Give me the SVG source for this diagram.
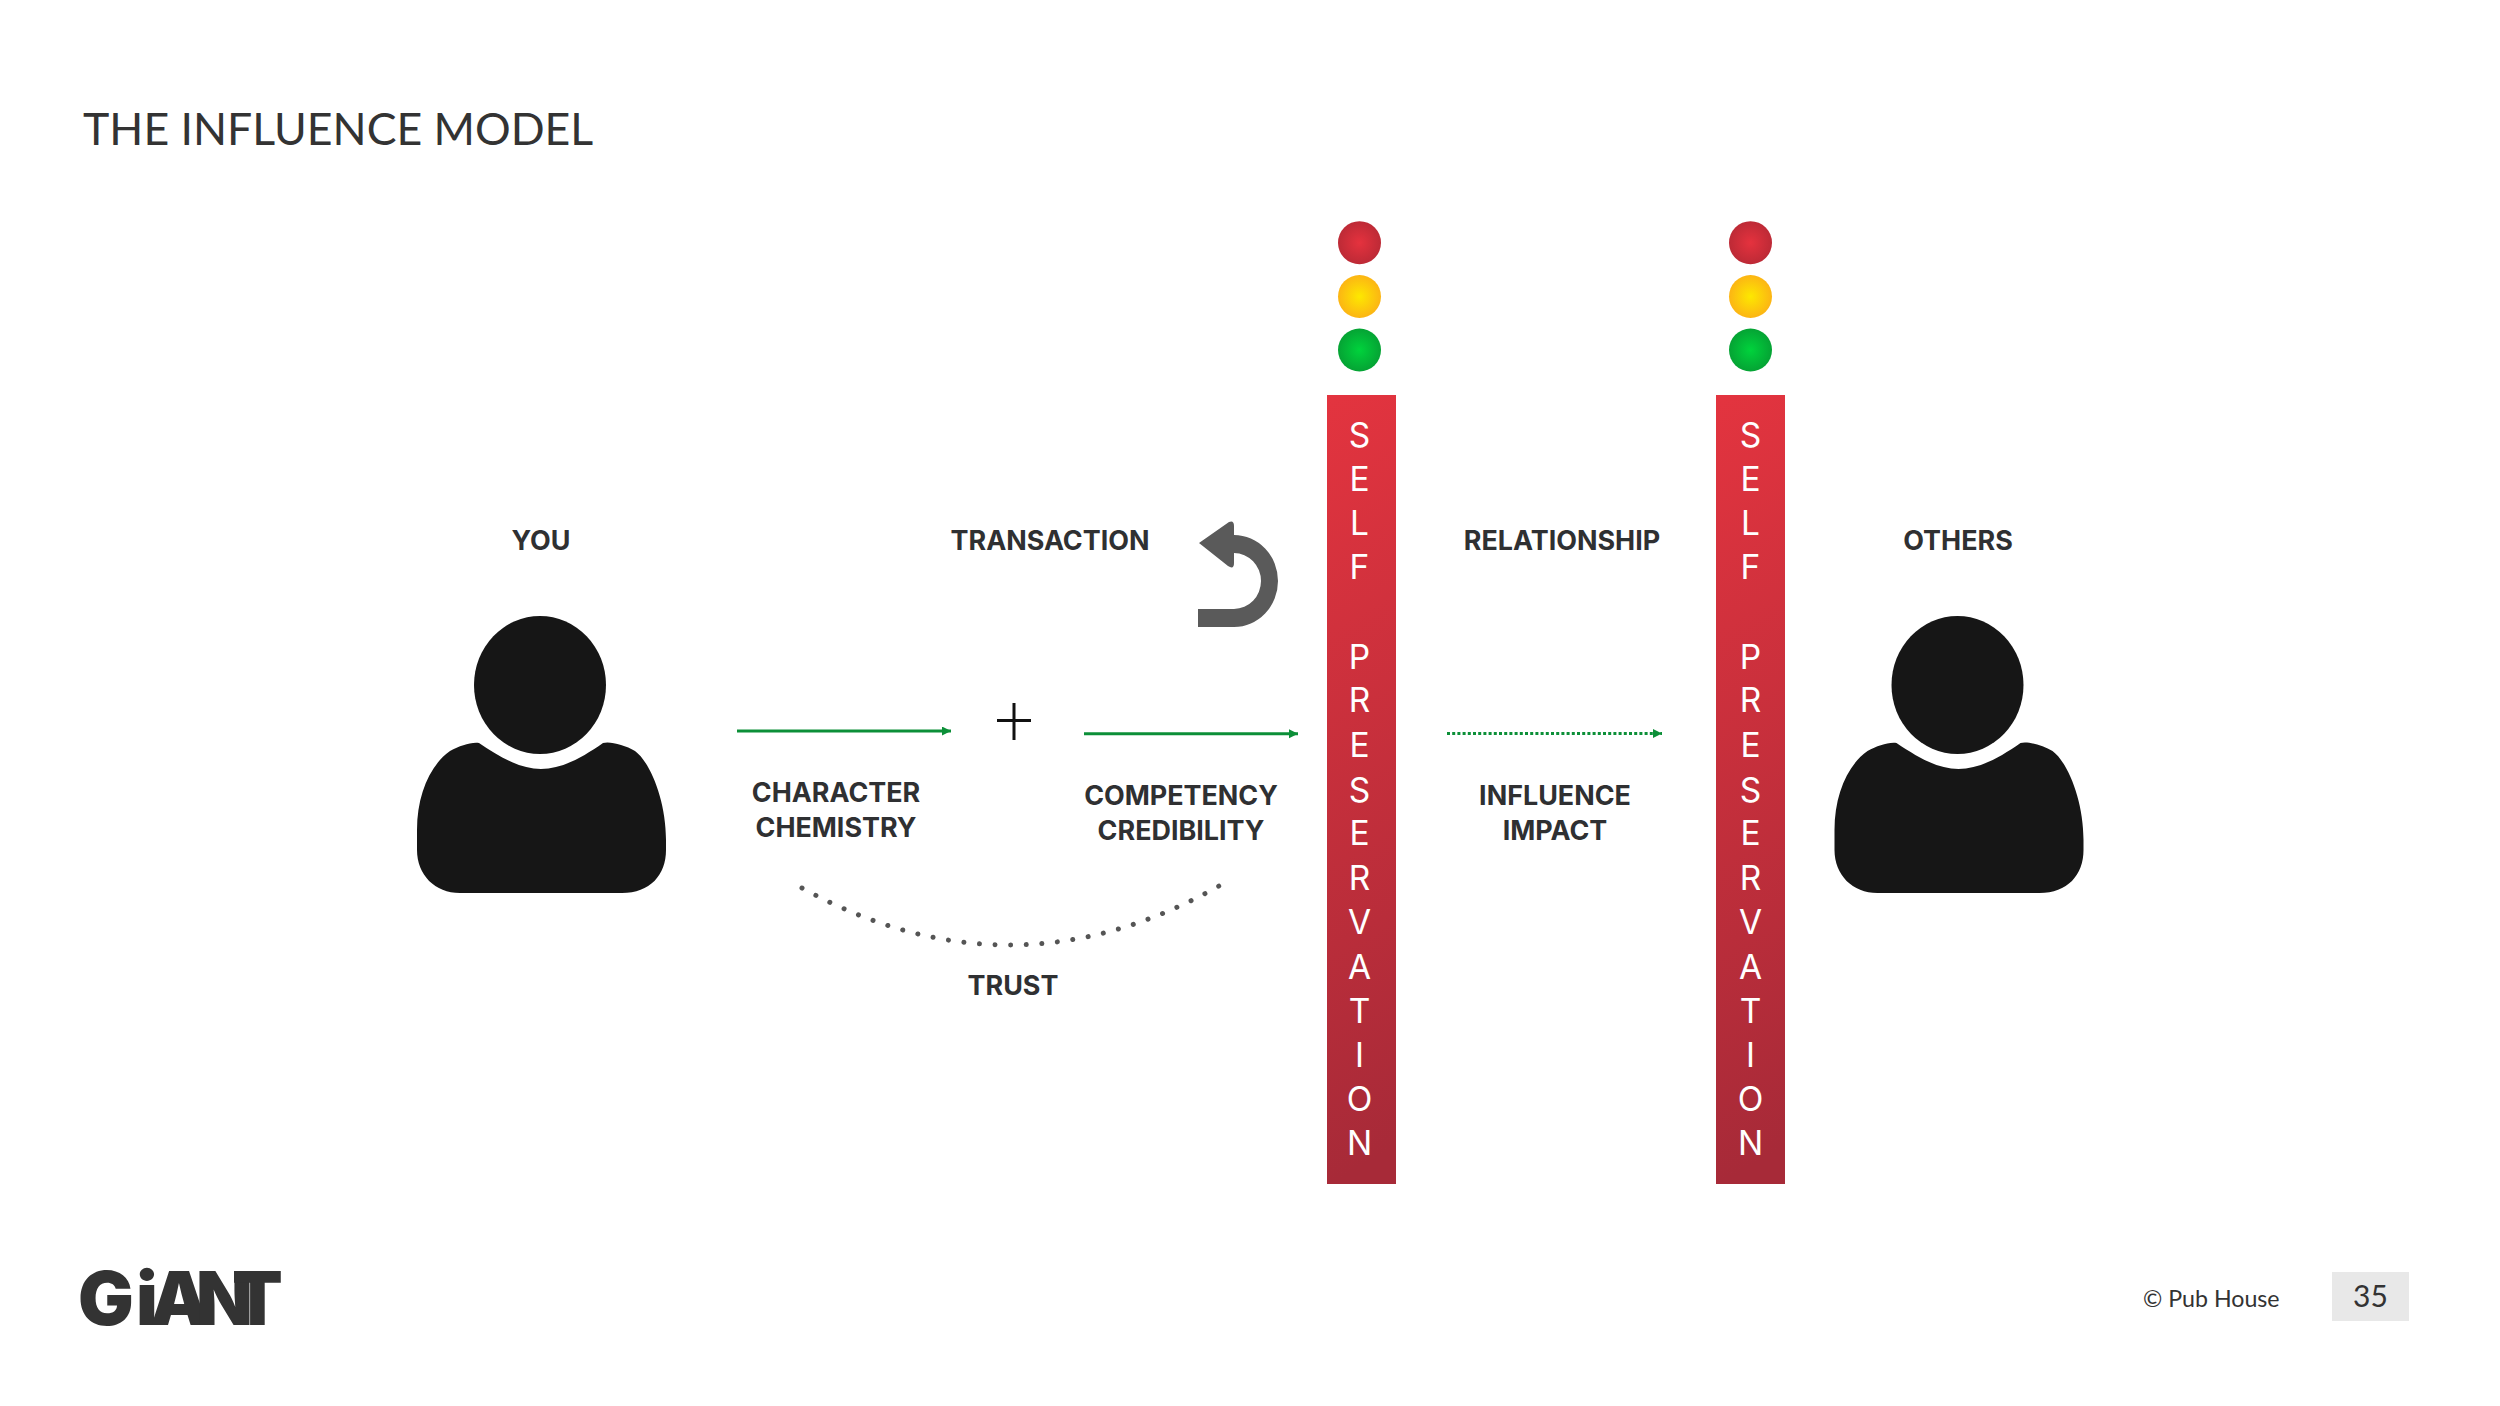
<svg xmlns="http://www.w3.org/2000/svg" width="2500" height="1406" viewBox="0 0 2500 1406">
<style>
text{font-family:"Lato","Liberation Sans",sans-serif}
.lbl{font-family:Inter,"Lato",sans-serif;font-size:26.900px;font-weight:700;fill:#2f3032;text-anchor:middle}
.bar{font-family:Inter,"Lato",sans-serif;font-size:33.500px;font-weight:400;fill:#fff;text-anchor:middle}
.person{fill:#161616}
.g{stroke:#0c8f38;stroke-width:3;fill:none}
</style>
<defs>
<linearGradient id="barG" x1="0" y1="0" x2="0.05" y2="1"><stop offset="0" stop-color="#e3343f"/><stop offset="1" stop-color="#a72a38"/></linearGradient>
<radialGradient id="rG"><stop offset="0" stop-color="#e5323e"/><stop offset="1" stop-color="#bd2a36"/></radialGradient>
<radialGradient id="yG"><stop offset="0" stop-color="#fde800"/><stop offset="1" stop-color="#fcb514"/></radialGradient>
<radialGradient id="nG"><stop offset="0" stop-color="#00d33c"/><stop offset="1" stop-color="#05a334"/></radialGradient>
<marker id="ah" markerUnits="userSpaceOnUse" markerWidth="10" markerHeight="10" refX="9" refY="4.5" orient="auto"><path d="M0,0L9,4.500L0,9Z" fill="#0c8f38"/></marker>
<g id="personShape"><ellipse cx="540" cy="685" rx="66" ry="69"/><path d="M479,743C500,757 520,769 541,769C562,769 583,757 603,743C610,741 625,745 635,751C650,762 666,800 666,840L666,850C666,875 650,893 622,893L460,893C435,893 417,875 417,850L417,830C417,795 430,765 450,751C460,746 470,742 479,743Z"/></g>
</defs>
<rect width="2500" height="1406" fill="#fff"/>
<text id="title" x="83" y="145" font-size="44.600" fill="#333">THE INFLUENCE MODEL</text>
<g id="you"><use href="#personShape" class="person"/><text class="lbl" x="541" y="550">YOU</text></g>
<g id="others"><use href="#personShape" class="person" x="1417.500"/><text class="lbl" x="1958" y="550">OTHERS</text></g>
<g id="transaction"><text class="lbl" x="1050" y="550">TRANSACTION</text>
<path fill="#5a5a5a" d="M1199,543L1229,522Q1234,520 1234,526L1234,535A44,46 0 0 1 1234,627L1198,627L1198,609L1234,609A27,28 0 0 0 1234,553L1234,563Q1234,570 1228,566Z"/></g>
<g id="relationship"><text class="lbl" x="1562" y="550">RELATIONSHIP</text></g>
<g id="character"><text class="lbl" x="836" y="802">CHARACTER</text><text class="lbl" x="836" y="836.500">CHEMISTRY</text></g>
<g id="plus"><path d="M997,720.500H1031M1014,703V740" stroke="#111" stroke-width="3" fill="none"/></g>
<g id="competency"><text class="lbl" x="1181" y="805">COMPETENCY</text><text class="lbl" x="1181" y="839.500">CREDIBILITY</text></g>
<g id="influence"><text class="lbl" x="1555" y="805">INFLUENCE</text><text class="lbl" x="1555" y="839.500">IMPACT</text></g>
<g id="trust"><text class="lbl" x="1013" y="995">TRUST</text></g>
<g id="barLeft"><rect x="1327" y="395" width="69" height="789" fill="url(#barG)"/>
<text class="bar" x="1359.500 1359.500 1359.500 1359.500 1359.500 1359.500 1359.500 1359.500 1359.500 1359.500 1359.500 1359.500 1359.500 1359.500 1359.500 1359.500 1359.500" y="447 491 535 579 623 669 712 757 802 845 890 934 979 1023 1067 1111 1155">SELF PRESERVATION</text></g>
<g id="barRight"><rect x="1716" y="395" width="69" height="789" fill="url(#barG)"/>
<text class="bar" x="1750.500 1750.500 1750.500 1750.500 1750.500 1750.500 1750.500 1750.500 1750.500 1750.500 1750.500 1750.500 1750.500 1750.500 1750.500 1750.500 1750.500" y="447 491 535 579 623 669 712 757 802 845 890 934 979 1023 1067 1111 1155">SELF PRESERVATION</text></g>
<g id="lightsLeft"><circle cx="1359.500" cy="242.700" r="21.500" fill="url(#rG)"/><circle cx="1359.500" cy="296.500" r="21.500" fill="url(#yG)"/><circle cx="1359.500" cy="350" r="21.500" fill="url(#nG)"/></g>
<g id="lightsRight"><circle cx="1750.500" cy="242.700" r="21.500" fill="url(#rG)"/><circle cx="1750.500" cy="296.500" r="21.500" fill="url(#yG)"/><circle cx="1750.500" cy="350" r="21.500" fill="url(#nG)"/></g>
<g id="connectors">
<path class="g" d="M737,731H951" marker-end="url(#ah)"/>
<path class="g" d="M1084,733.700H1298" marker-end="url(#ah)"/>
<path class="g" d="M1447,733.500H1662" stroke-dasharray="3 2.200" marker-end="url(#ah)"/>
<path d="M802,888Q1011,1003 1219,886" fill="none" stroke="#555" stroke-width="5" stroke-linecap="round" pathLength="28.020" stroke-dasharray="0.001 0.999"/>
</g>
<g id="logo"><text x="78 136 150 196 232" y="1325" font-size="74" font-weight="900" fill="#333" style="font-family:Inter,Lato,sans-serif">GiANT</text></g>
<g id="footer"><text x="2143" y="1307" font-size="23.200" fill="#333">© Pub House</text><rect x="2332" y="1272" width="77" height="49" fill="#e8e8e8"/><text x="2370.500" y="1307" font-size="30" fill="#333" text-anchor="middle">35</text></g>
</svg>
